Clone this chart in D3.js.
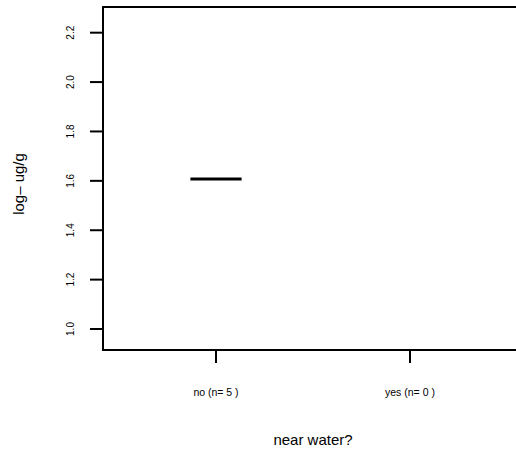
<!DOCTYPE html>
<html>
<head>
<meta charset="utf-8">
<script src="https://cdn.jsdelivr.net/npm/d3@7"></script>
<style>
  html, body { margin: 0; padding: 0; background: #fff; }
  svg { display: block; font-family: "Liberation Sans", Arial, Helvetica, sans-serif; }
</style>
</head>
<body>
<svg id="chart" width="516" height="454"></svg>
<script>
// ---- data ----
const categories = ["no", "yes"];
const counts = [5, 0];
const medians = [1.607, null];
const lowerQuartiles = [1.607, null];
const upperQuartiles = [1.607, null];
const yTicks = [1.0, 1.2, 1.4, 1.6, 1.8, 2.0, 2.2];
const xTitle = "near water?";
const yTitle = "log\u2013 ug/g";

// ---- layout ----
const svg = d3.select("#chart");
const W = 516, H = 454;
const plotLeft = 103, plotRight = 523, plotTop = 7, plotBottom = 350;

const y = d3.scaleLinear().domain([0.915, 2.304]).range([plotBottom, plotTop]);
const x = d3.scaleLinear().domain([0.4175, 2.5825]).range([plotLeft, plotRight]);
const boxHalf = 0.132; // in category units

// frame
svg.append("path")
  .attr("d", `M${plotRight},${plotTop}H${plotLeft}V${plotBottom}H${plotRight}`)
  .attr("fill", "none").attr("stroke", "#000").attr("stroke-width", 2);

// y axis ticks
const yg = svg.append("g");
yg.selectAll("line").data(yTicks).join("line")
  .attr("x1", plotLeft - 13).attr("x2", plotLeft)
  .attr("y1", d => y(d)).attr("y2", d => y(d))
  .attr("stroke", "#000").attr("stroke-width", 2);
yg.selectAll("text").data(yTicks).join("text")
  .attr("transform", d => `translate(74,${y(d)}) rotate(-90)`)
  .attr("text-anchor", "middle")
  .attr("font-size", 10)
  .text(d => d.toFixed(1));

// x axis ticks
const xg = svg.append("g");
xg.selectAll("line").data(categories).join("line")
  .attr("x1", (d, i) => x(i + 1)).attr("x2", (d, i) => x(i + 1))
  .attr("y1", plotBottom).attr("y2", plotBottom + 13)
  .attr("stroke", "#000").attr("stroke-width", 2);
xg.selectAll("text").data(categories).join("text")
  .attr("x", (d, i) => x(i + 1)).attr("y", 396)
  .attr("text-anchor", "middle")
  .attr("font-size", 10.5)
  .text((d, i) => `${d} (n= ${counts[i]} )`);

// boxes
const boxes = categories.map((c, i) => ({ i, med: medians[i], lo: lowerQuartiles[i], hi: upperQuartiles[i] }))
  .filter(d => d.med !== null);
const bg = svg.append("g");
bg.selectAll("rect").data(boxes).join("rect")
  .attr("x", d => x(d.i + 1 - boxHalf))
  .attr("width", d => x(d.i + 1 + boxHalf) - x(d.i + 1 - boxHalf))
  .attr("y", d => y(d.hi))
  .attr("height", d => y(d.lo) - y(d.hi))
  .attr("fill", "none").attr("stroke", "#000").attr("stroke-width", 1);
bg.selectAll("line.med").data(boxes).join("line").attr("class", "med")
  .attr("x1", d => x(d.i + 1 - boxHalf)).attr("x2", d => x(d.i + 1 + boxHalf))
  .attr("y1", d => y(d.med)).attr("y2", d => y(d.med))
  .attr("stroke", "#000").attr("stroke-width", 3);

// titles
svg.append("text")
  .attr("x", (plotLeft + plotRight) / 2).attr("y", 445)
  .attr("text-anchor", "middle").attr("font-size", 15)
  .text(xTitle);
svg.append("text")
  .attr("transform", `translate(24,${184}) rotate(-90)`)
  .attr("text-anchor", "middle").attr("font-size", 15)
  .text(yTitle);
</script>
</body>
</html>
